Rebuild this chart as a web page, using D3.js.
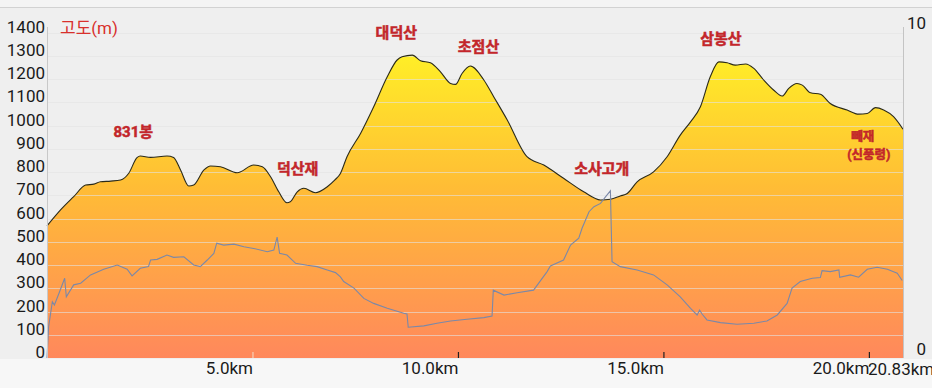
<!DOCTYPE html>
<html>
<head>
<meta charset="utf-8">
<script src="https://cdn.jsdelivr.net/npm/d3@7"></script>
<style>
  body { margin: 0; background: #f7f7f7; overflow: hidden; }
  text { font-family: Roboto, "Noto Sans CJK KR", sans-serif; }
</style>
</head>
<body>
<div id="chart"></div>
<script>
const W = 932, H = 388;
const plotL = 47, plotR = 903, plotT = 27, plotB = 358;

// elevation profile (km, m)
const elevKm = [0, 0.33, 0.65, 0.94, 1.14, 1.30, 1.55, 1.79, 1.99, 2.19, 2.27, 2.52, 2.92, 3.08, 3.25, 3.45, 3.57, 3.82, 3.98, 4.22, 4.63, 5.03, 5.24, 5.44, 5.64, 5.84, 5.92, 6.09, 6.25, 6.53, 6.82, 7.00, 7.14, 7.30, 7.63, 7.95, 8.28, 8.52, 8.64, 8.89, 9.09, 9.33, 9.57, 9.82, 9.94, 10.10, 10.30, 10.63, 10.87, 11.20, 11.68, 12.09, 12.57, 13.06, 13.47, 13.71, 13.95, 14.12, 14.36, 14.76, 15.09, 15.41, 15.66, 15.90, 16.14, 16.35, 16.55, 16.75, 17.00, 17.20, 17.44, 17.68, 17.89, 18.05, 18.25, 18.38, 18.58, 18.82, 19.06, 19.47, 19.75, 19.96, 20.16, 20.36, 20.60, 20.83];
const elevM = [568, 637, 694, 744, 748, 758, 761, 766, 795, 862, 869, 863, 869, 863, 809, 740, 744, 809, 826, 823, 797, 830, 823, 780, 715, 668, 672, 715, 730, 711, 737, 765, 794, 866, 966, 1081, 1210, 1282, 1296, 1303, 1279, 1270, 1232, 1181, 1177, 1224, 1256, 1196, 1124, 1024, 866, 830, 773, 715, 680, 683, 697, 708, 758, 801, 866, 959, 1016, 1081, 1210, 1274, 1270, 1260, 1265, 1246, 1196, 1153, 1127, 1160, 1181, 1174, 1141, 1135, 1095, 1067, 1049, 1052, 1077, 1067, 1038, 984];

// second series on the right axis (0-10)
const lineKm = [0, 0.04, 0.13, 0.18, 0.29, 0.43, 0.47, 0.65, 0.82, 1.06, 1.38, 1.71, 1.95, 2.07, 2.27, 2.47, 2.52, 2.68, 2.92, 3.08, 3.33, 3.57, 3.73, 3.90, 4.06, 4.13, 4.30, 4.55, 4.79, 5.03, 5.36, 5.52, 5.60, 5.66, 5.84, 6.05, 6.33, 6.57, 6.82, 7.02, 7.14, 7.22, 7.47, 7.71, 7.95, 8.28, 8.68, 8.76, 8.79, 9.17, 9.49, 9.82, 10.22, 10.63, 10.83, 10.86, 11.12, 11.44, 11.84, 12.17, 12.25, 12.57, 12.74, 12.94, 13.02, 13.19, 13.31, 13.47, 13.59, 13.71, 13.75, 13.95, 14.36, 14.76, 15.09, 15.41, 15.66, 15.82, 15.88, 15.94, 16.06, 16.39, 16.79, 17.20, 17.52, 17.77, 18.01, 18.13, 18.33, 18.62, 18.82, 18.86, 19.06, 19.27, 19.29, 19.55, 19.75, 19.96, 20.20, 20.45, 20.69, 20.81];
const lineVal = [0, 0.95, 1.70, 1.60, 1.95, 2.41, 1.85, 2.21, 2.26, 2.51, 2.68, 2.81, 2.68, 2.48, 2.71, 2.76, 2.96, 2.98, 3.11, 3.04, 3.06, 2.81, 2.76, 2.96, 3.16, 3.47, 3.41, 3.44, 3.36, 3.31, 3.21, 3.26, 3.65, 3.16, 3.11, 2.86, 2.80, 2.76, 2.66, 2.58, 2.45, 2.31, 2.11, 1.80, 1.65, 1.50, 1.35, 1.33, 0.93, 0.97, 1.05, 1.12, 1.17, 1.22, 1.27, 2.05, 1.90, 1.97, 2.05, 2.61, 2.78, 2.96, 3.41, 3.62, 3.92, 4.42, 4.57, 4.67, 4.87, 5.05, 2.91, 2.76, 2.66, 2.51, 2.21, 1.85, 1.50, 1.30, 1.45, 1.33, 1.15, 1.07, 1.02, 1.05, 1.12, 1.30, 1.65, 2.11, 2.31, 2.41, 2.43, 2.64, 2.61, 2.66, 2.44, 2.51, 2.44, 2.68, 2.74, 2.68, 2.56, 2.34];

const yTicks = [0, 100, 200, 300, 400, 500, 600, 700, 800, 900, 1000, 1100, 1200, 1300, 1400];
const xTicks = [5, 10, 15, 20];
const xTickLabels = ["5.0km", "10.0km", "15.0km", "20.0km"];

const peakNames = ["831봉", "덕산재", "대덕산", "초점산", "소사고개", "삼봉산"];
const peakKm = [2.10, 6.10, 8.50, 10.50, 13.50, 16.40];
const peakM = [950, 790, 1375, 1315, 790, 1350];

const x = d3.scaleLinear().domain([0, 20.83]).range([plotL, plotR]);
const y = d3.scaleLinear().domain([0, 1424]).range([plotB, plotT]);
const y2 = d3.scaleLinear().domain([0, 10]).range([plotB, plotT]);

const svg = d3.select("#chart").append("svg")
  .attr("width", W).attr("height", H);

// backgrounds
svg.append("rect").attr("width", W).attr("height", plotB + 1).attr("fill", "#efefef");
svg.append("rect").attr("y", 0).attr("width", W).attr("height", 7).attr("fill", "#f4f4f4");
svg.append("line").attr("x1", 0).attr("x2", W).attr("y1", 7.5).attr("y2", 7.5)
  .attr("stroke", "#d2d2d2");

const defs = svg.append("defs");
const grad = defs.append("linearGradient").attr("id", "fillg")
  .attr("gradientUnits", "userSpaceOnUse")
  .attr("x1", 0).attr("x2", 0).attr("y1", 45).attr("y2", plotB);
grad.append("stop").attr("offset", "0%").attr("stop-color", "#fff226");
grad.append("stop").attr("offset", "45%").attr("stop-color", "#ffbd35");
grad.append("stop").attr("offset", "100%").attr("stop-color", "#ff885c");

const elev = elevKm.map((d, i) => [d, elevM[i]]);
const area = d3.area().x(d => x(d[0])).y0(plotB).y1(d => y(d[1])).curve(d3.curveMonotoneX);
const line = d3.line().x(d => x(d[0])).y(d => y(d[1])).curve(d3.curveMonotoneX);

svg.append("path").datum(elev).attr("d", area).attr("fill", "url(#fillg)");

// grid
svg.append("g").selectAll("line").data(yTicks.slice(1)).join("line")
  .attr("x1", plotL).attr("x2", plotR)
  .attr("y1", d => Math.round(y(d)) + 0.5).attr("y2", d => Math.round(y(d)) + 0.5)
  .attr("stroke", "#e2e2e2").attr("stroke-opacity", 0.6);

svg.append("path").datum(elev).attr("d", line)
  .attr("fill", "none").attr("stroke", "#2a2a1a").attr("stroke-width", 1.1);

const line2 = d3.line().x(d => x(d)).y((d, i) => y2(lineVal[i]));
svg.append("path").datum(lineKm).attr("d", line2)
  .attr("fill", "none").attr("stroke", "#7b88a8").attr("stroke-width", 1.1);

// axis lines
svg.append("line").attr("x1", plotL + 0.5).attr("x2", plotL + 0.5).attr("y1", plotT).attr("y2", plotB)
  .attr("stroke", "#c8c8c8");
svg.append("line").attr("x1", plotR + 0.5).attr("x2", plotR + 0.5).attr("y1", plotT).attr("y2", plotB)
  .attr("stroke", "#c4c4c4");

// left axis labels
const yAxis = d3.axisLeft(y).tickValues(yTicks).tickFormat(d3.format("d")).tickSize(0).tickPadding(2);
const gy = svg.append("g").attr("transform", `translate(${plotL},0)`).call(yAxis);
gy.select(".domain").remove();
gy.selectAll("text").attr("font-size", 17).attr("fill", "#1a1a1a").attr("dy", "-0.02em")
  .attr("font-family", "Roboto, sans-serif");

// right axis labels
const y2Axis = d3.axisRight(y2).tickValues([0, 10]).tickFormat(d3.format("d")).tickSize(0).tickPadding(0);
const gy2 = svg.append("g").attr("transform", "translate(926,0)").call(y2Axis);
gy2.select(".domain").remove();
gy2.selectAll("text").attr("font-size", 17).attr("fill", "#1a1a1a")
  .attr("text-anchor", "end").attr("dy", d => d === 10 ? "0.1em" : "-0.22em")
  .attr("font-family", "Roboto, sans-serif");

// bottom axis
const xAxis = d3.axisBottom(x).tickValues(xTicks).tickFormat((d, i) => xTickLabels[i]).tickSize(0).tickPadding(4);
const gx = svg.append("g").attr("transform", `translate(0,${plotB})`).call(xAxis);
gx.select(".domain").remove();
gx.selectAll("text").attr("font-size", 17).attr("fill", "#1a1a1a").attr("text-anchor", "end")
  .attr("font-family", "Roboto, sans-serif");
gx.selectAll(".tick").append("line").attr("y1", -6).attr("y2", 0)
  .attr("stroke", d => d === 5 ? "#f4d0b8" : "#222").attr("stroke-width", 1.2);
svg.append("text").attr("x", 868).attr("y", plotB + 5).attr("dy", "0.71em")
  .attr("font-size", 17).attr("fill", "#1a1a1a").text("20.83km");

// unit label
svg.append("text").attr("x", 60).attr("y", 34).attr("font-size", 17)
  .attr("fill", "#d8302c").attr("font-family", "Roboto, 'Noto Sans CJK KR', sans-serif").text("고도(m)");

// place names
const pk = svg.append("g").attr("font-weight", "bold").attr("fill", "#c4262a")
  .attr("stroke", "#b8242a").attr("stroke-width", 0.5).attr("paint-order", "stroke")
  .attr("font-family", "'Noto Sans CJK KR', sans-serif").attr("text-anchor", "middle");
pk.selectAll("text").data(peakNames).join("text")
  .attr("x", (d, i) => x(peakKm[i])).attr("y", (d, i) => y(peakM[i]))
  .attr("font-size", 15).text(d => d);
pk.append("text").attr("x", x(19.85)).attr("y", y(935)).attr("font-size", 12.5).text("빼재");
pk.append("text").attr("x", x(20.0)).attr("y", y(855)).attr("font-size", 12.5).text("(신풍령)");
</script>
</body>
</html>
